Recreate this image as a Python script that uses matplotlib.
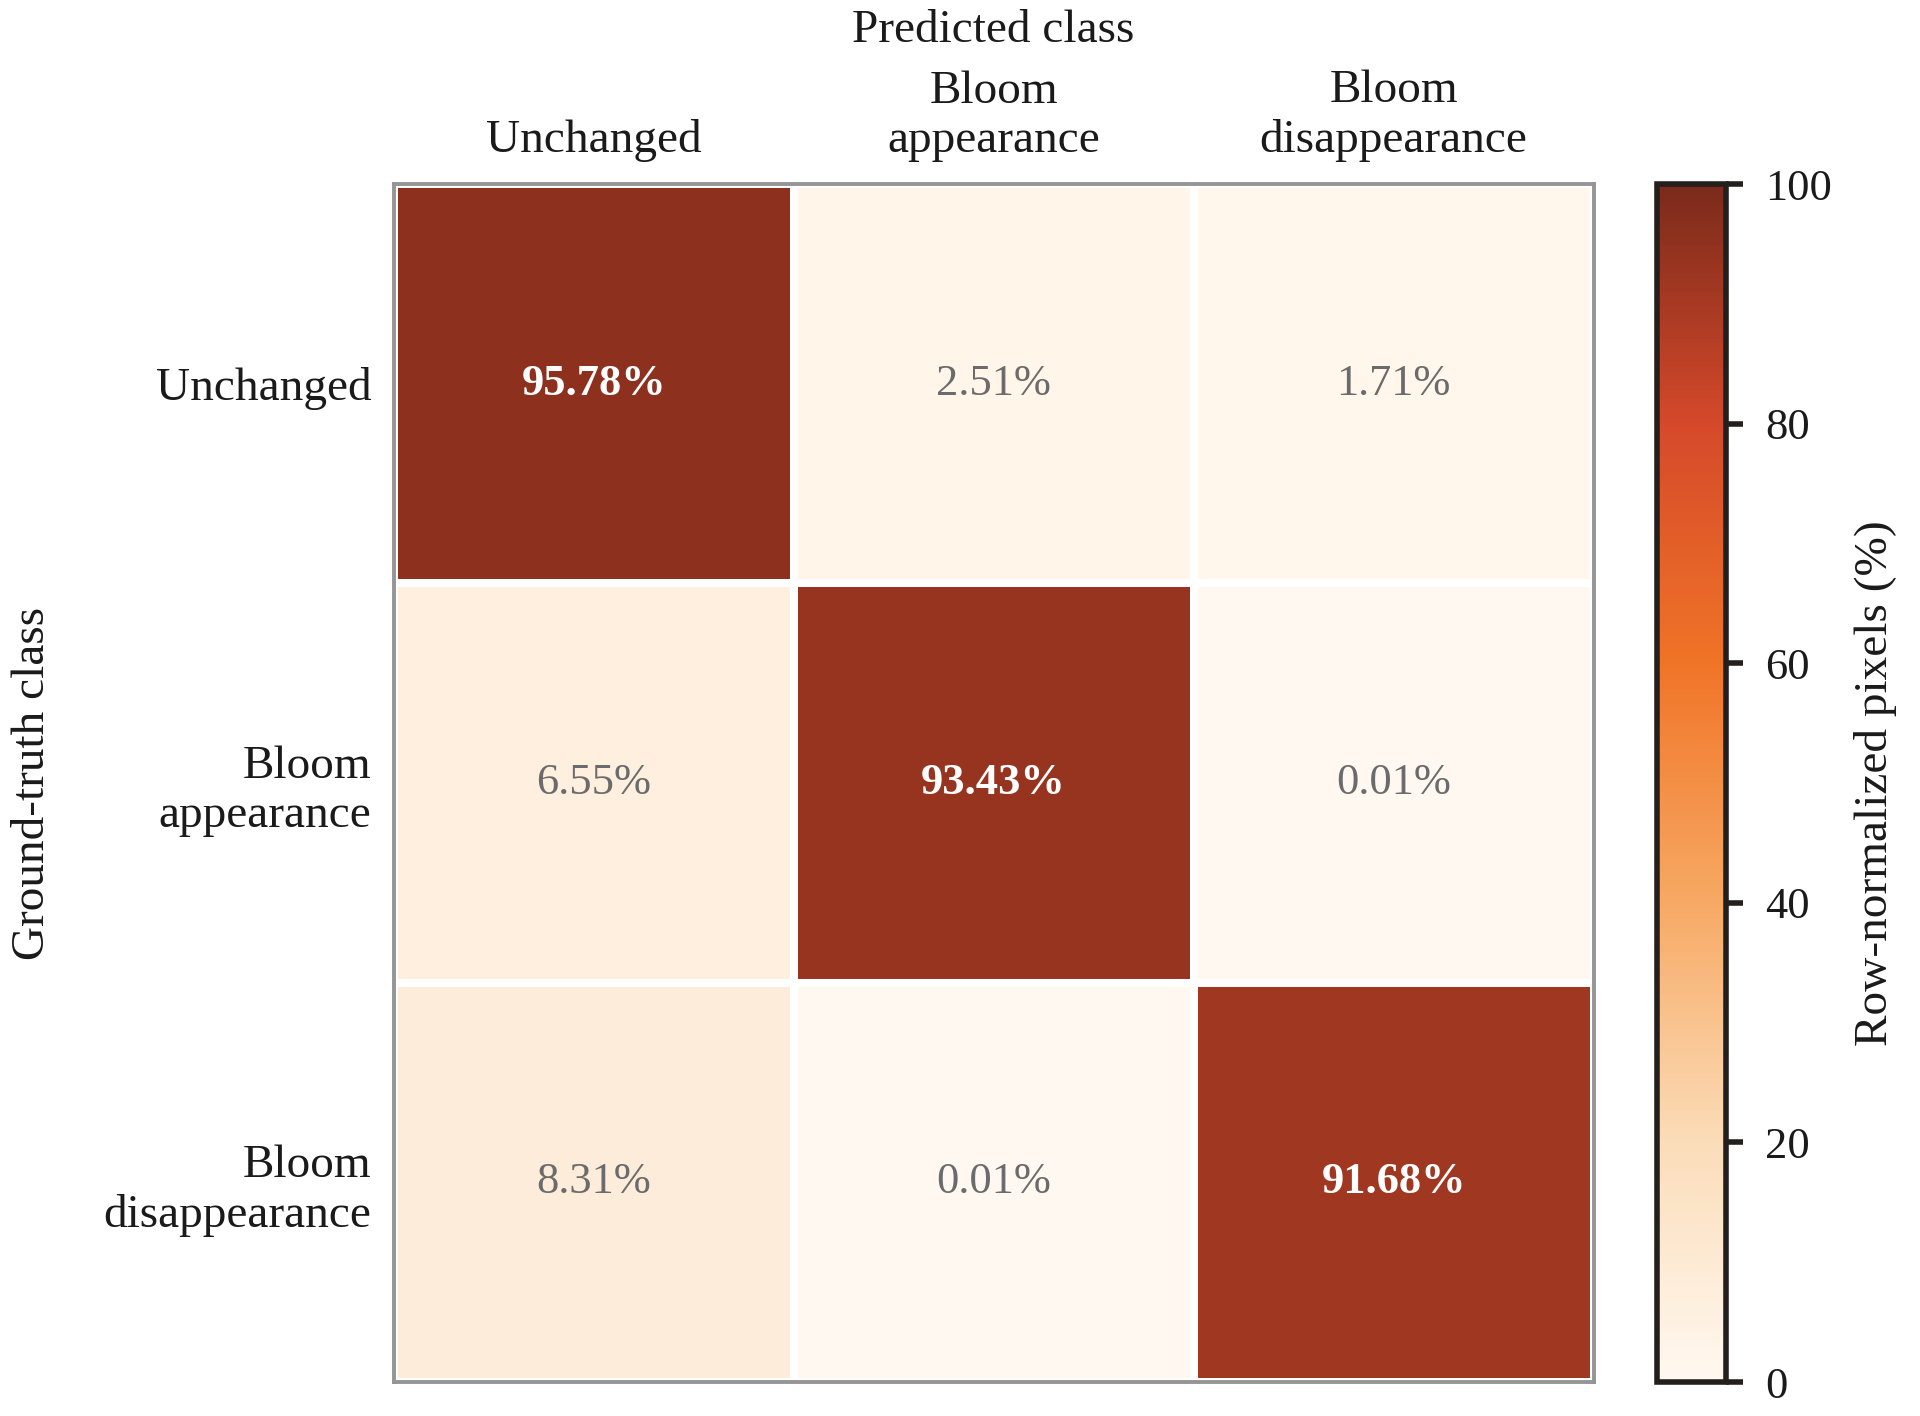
import numpy as np
import matplotlib
matplotlib.use("Agg")
import matplotlib.pyplot as plt
from matplotlib.colors import LinearSegmentedColormap

plt.rcParams['font.family'] = ['Liberation Serif', 'DejaVu Serif']

# === Данни ===
classes = ["Unchanged", "Bloom\nappearance", "Bloom\ndisappearance"]
row_unchanged = [95.78, 2.51, 1.71]
row_appearance = [6.55, 93.43, 0.01]
row_disappearance = [8.31, 0.01, 91.68]
cm = np.array([row_unchanged, row_appearance, row_disappearance])

cmap = LinearSegmentedColormap.from_list(
    "bloom", ["#fff8f0", "#fbdcb8", "#f7a964", "#f07427", "#d5492a", "#7b2a1b"])

fig = plt.figure(figsize=(9.6, 7.08), dpi=200)
ax = fig.add_axes([0.205, 0.024, 0.625, 0.846])
cax = fig.add_axes([0.863, 0.024, 0.036, 0.846])

im = ax.pcolormesh(cm, cmap=cmap, vmin=0, vmax=100,
                   edgecolors="white", linewidth=2.2)
ax.set_xlim(0, 3)
ax.set_ylim(3, 0)

for i in range(3):
    for j in range(3):
        v = cm[i, j]
        dark = v > 50
        ax.text(j + 0.5, i + 0.5, f"{v:.2f}%", ha="center", va="center",
                fontsize=16, color="white" if dark else "#6b6b6b",
                fontweight="bold" if dark else "normal")

ax.set_xticks(np.arange(3) + 0.5)
ax.set_yticks(np.arange(3) + 0.5)
ax.set_xticklabels(classes, fontsize=17, color="#1a1a1a", linespacing=1.2)
ax.set_yticklabels(classes, fontsize=17, color="#1a1a1a", linespacing=1.2)
ax.xaxis.tick_top()
ax.xaxis.set_label_position("top")
ax.tick_params(length=0, pad=8)
ax.set_xlabel("Predicted class", fontsize=17, labelpad=10, color="#1a1a1a")
ax.set_ylabel("Ground-truth class", fontsize=17, labelpad=18, color="#1a1a1a")
for s in ax.spines.values():
    s.set_color("#959595")
    s.set_linewidth(1.4)

cb = fig.colorbar(im, cax=cax, ticks=[0, 20, 40, 60, 80, 100])
cb.outline.set_color("#231f1c")
cb.outline.set_linewidth(2.0)
cax.tick_params(labelsize=16, length=6, width=2.0, color="#231f1c",
                labelcolor="#1a1a1a", pad=8)
cb.set_label("Row-normalized pixels (%)", fontsize=17, labelpad=8, color="#1a1a1a")

fig.savefig("out.png", dpi=200)
